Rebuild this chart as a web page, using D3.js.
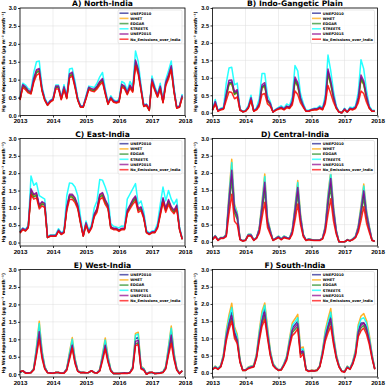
<!DOCTYPE html>
<html>
<head>
<meta charset="utf-8">
<script src="https://cdn.jsdelivr.net/npm/d3@7"></script>
<style>
  body { margin: 0; background: #fff; }
  svg { display: block; font-family: "DejaVu Sans", sans-serif; }
  .axis path, .axis line { stroke: #000; stroke-width: 0.8; }
  .axis text { font-weight: bold; fill: #000; }
  .grid line { stroke: #dcdcdc; stroke-width: 0.5; }
</style>
</head>
<body>
<div id="chart"></div>
<script>
// monthly values, Jan 2013 .. Dec 2017
var seriesNames = ["UNEP2010", "WHET", "EDGAR", "STREETS", "UNEP2015", "No_Emissions_over_India"];
var seriesColors = ["#1c1c8e", "#ffa500", "#228b22", "#00ffff", "#8b008b", "#ff0000"];
var panelTitles = ["A) North-India", "B) Indo-Gangetic Plain", "C) East-India", "D) Central-India", "E) West-India", "F) South-India"];
var yearTicks = [2013, 2014, 2015, 2016, 2017, 2018];
var fluxTicks = [0, 0.5, 1.0, 1.5, 2.0, 2.5, 3.0];

// A) North-India
var northUNEP2010 = [0.45,0.84,0.78,0.68,0.64,1.0,1.24,1.28,0.73,0.45,0.3,0.4, 0.45,0.8,0.8,0.47,0.78,0.5,1.12,1.18,0.84,0.45,0.25,0.25, 0.5,0.77,0.73,0.71,0.8,0.92,1.0,0.65,0.33,0.5,0.4,0.37, 0.4,0.85,0.8,0.62,0.82,0.7,1.5,1.25,0.75,0.27,0.3,0.15, 1.0,0.75,0.55,0.8,0.38,0.9,1.1,1.35,0.7,0.22,0.25,0.55];
var northWHET = [0.45,0.83,0.77,0.67,0.63,0.99,1.22,1.26,0.72,0.44,0.3,0.39, 0.44,0.79,0.79,0.46,0.77,0.49,1.1,1.16,0.83,0.44,0.25,0.25, 0.49,0.76,0.72,0.7,0.79,0.91,0.98,0.64,0.33,0.49,0.39,0.36, 0.39,0.84,0.79,0.61,0.81,0.69,1.48,1.23,0.74,0.27,0.29,0.15, 0.98,0.74,0.54,0.79,0.37,0.89,1.08,1.33,0.69,0.22,0.25,0.54];
var northEDGAR = [0.44,0.82,0.76,0.66,0.62,0.97,1.2,1.24,0.71,0.44,0.29,0.39, 0.44,0.78,0.78,0.46,0.76,0.49,1.09,1.14,0.82,0.44,0.24,0.24, 0.49,0.75,0.71,0.69,0.78,0.9,0.97,0.63,0.32,0.49,0.39,0.36, 0.39,0.83,0.78,0.6,0.8,0.68,1.46,1.21,0.73,0.26,0.29,0.14, 0.97,0.73,0.53,0.78,0.37,0.88,1.07,1.31,0.68,0.21,0.24,0.53];
var northSTREETS = [0.5,0.9,0.85,0.75,0.72,1.2,1.5,1.52,0.82,0.5,0.33,0.43, 0.48,0.85,0.85,0.5,0.86,0.55,1.3,1.32,0.95,0.5,0.27,0.27, 0.55,0.82,0.8,0.78,0.9,1.08,1.2,0.75,0.37,0.55,0.44,0.4, 0.45,0.95,0.9,0.7,0.95,0.8,1.8,1.5,0.85,0.3,0.32,0.17, 1.1,0.82,0.6,0.9,0.42,1.0,1.25,1.52,0.78,0.24,0.27,0.6];
var northUNEP2015 = [0.46,0.86,0.8,0.7,0.66,1.04,1.28,1.31,0.75,0.46,0.31,0.41, 0.46,0.82,0.82,0.48,0.8,0.52,1.16,1.21,0.86,0.46,0.26,0.26, 0.51,0.79,0.75,0.73,0.82,0.95,1.03,0.67,0.34,0.51,0.41,0.38, 0.41,0.87,0.82,0.64,0.85,0.72,1.55,1.29,0.77,0.28,0.31,0.16, 1.02,0.77,0.57,0.82,0.39,0.93,1.13,1.39,0.72,0.23,0.26,0.56];
var northNoEmis = [0.43,0.78,0.72,0.63,0.6,0.92,1.12,1.18,0.68,0.42,0.28,0.37, 0.42,0.74,0.74,0.44,0.72,0.47,1.05,1.1,0.78,0.42,0.23,0.23, 0.46,0.72,0.68,0.66,0.74,0.85,0.93,0.6,0.31,0.47,0.37,0.35, 0.37,0.79,0.74,0.58,0.76,0.65,1.38,1.15,0.7,0.25,0.28,0.14, 0.93,0.7,0.51,0.74,0.35,0.83,1.02,1.28,0.65,0.2,0.23,0.5];

// B) Indo-Gangetic Plain
var igpUNEP2010 = [0.08,0.3,0.05,0.1,0.12,0.5,0.85,0.88,0.55,0.62,0.08,0.03, 0.05,0.15,0.4,0.05,0.1,0.25,0.75,0.8,0.35,0.25,0.02,0.08, 0.12,0.15,0.1,0.18,0.15,0.3,0.95,0.8,0.4,0.2,0.05,0.05, 0.08,0.1,0.1,0.15,0.1,0.35,1.18,0.85,0.45,0.15,0.02,0.0, 0.1,0.02,0.12,0.1,0.15,0.4,1.0,0.85,0.45,0.15,0.05,0.05];
var igpWHET = [0.08,0.28,0.05,0.09,0.11,0.47,0.8,0.83,0.52,0.58,0.08,0.03, 0.05,0.14,0.38,0.05,0.09,0.24,0.7,0.75,0.33,0.24,0.02,0.08, 0.11,0.14,0.09,0.17,0.14,0.28,0.89,0.75,0.38,0.19,0.05,0.05, 0.08,0.09,0.09,0.14,0.09,0.33,1.11,0.8,0.42,0.14,0.02,0.0, 0.09,0.02,0.11,0.09,0.14,0.38,0.94,0.8,0.42,0.14,0.05,0.05];
var igpEDGAR = [0.08,0.29,0.05,0.1,0.12,0.48,0.82,0.84,0.53,0.59,0.08,0.03, 0.05,0.14,0.38,0.05,0.1,0.24,0.72,0.77,0.34,0.24,0.02,0.08, 0.12,0.14,0.1,0.17,0.14,0.29,0.91,0.77,0.38,0.19,0.05,0.05, 0.08,0.1,0.1,0.14,0.1,0.34,1.13,0.82,0.43,0.14,0.02,0.0, 0.1,0.02,0.12,0.1,0.14,0.38,0.96,0.82,0.43,0.14,0.05,0.05];
var igpSTREETS = [0.1,0.38,0.06,0.13,0.16,0.85,1.28,1.3,0.8,0.85,0.1,0.04, 0.07,0.2,0.5,0.07,0.14,0.4,1.12,1.12,0.5,0.32,0.03,0.1, 0.15,0.2,0.14,0.25,0.2,0.45,1.35,1.2,0.55,0.27,0.07,0.07, 0.1,0.13,0.13,0.2,0.14,0.5,1.65,1.2,0.62,0.2,0.03,0.0, 0.13,0.03,0.16,0.14,0.2,0.58,1.52,1.25,0.65,0.2,0.07,0.07];
var igpUNEP2015 = [0.08,0.32,0.05,0.11,0.13,0.54,0.93,0.94,0.59,0.66,0.09,0.03, 0.05,0.16,0.43,0.05,0.11,0.27,0.8,0.86,0.37,0.27,0.02,0.09, 0.13,0.16,0.11,0.19,0.16,0.32,1.02,0.86,0.43,0.21,0.05,0.05, 0.09,0.11,0.11,0.16,0.11,0.37,1.25,0.91,0.48,0.16,0.02,0.0, 0.11,0.02,0.13,0.11,0.16,0.43,1.08,0.91,0.48,0.16,0.05,0.05];
var igpNoEmis = [0.07,0.25,0.04,0.08,0.1,0.35,0.6,0.58,0.4,0.45,0.07,0.03, 0.04,0.12,0.35,0.04,0.08,0.18,0.52,0.55,0.25,0.18,0.02,0.07, 0.1,0.12,0.08,0.14,0.12,0.22,0.62,0.52,0.28,0.15,0.04,0.04, 0.07,0.08,0.08,0.12,0.08,0.25,0.78,0.55,0.3,0.12,0.02,0.0, 0.08,0.02,0.1,0.08,0.12,0.28,0.62,0.55,0.3,0.12,0.04,0.04];

// C) East-India
var eastUNEP2010 = [0.3,0.4,0.35,0.45,1.5,1.35,1.4,1.05,1.15,1.1,0.15,0.2, 0.2,0.2,0.35,0.25,0.3,1.0,1.35,1.35,1.25,1.05,0.6,0.2, 0.55,0.3,0.45,0.8,0.95,1.35,1.4,1.2,1.05,0.45,0.4,0.4, 0.35,0.4,0.4,0.9,1.05,1.2,1.3,0.95,1.0,0.75,0.3,0.25, 0.3,0.3,0.45,0.85,1.25,0.95,1.2,1.0,0.9,1.05,0.4,0.1];
var eastWHET = [0.3,0.4,0.35,0.45,1.48,1.33,1.38,1.04,1.13,1.09,0.15,0.2, 0.2,0.2,0.35,0.25,0.3,0.99,1.33,1.33,1.23,1.04,0.59,0.2, 0.54,0.3,0.45,0.79,0.94,1.33,1.38,1.18,1.04,0.45,0.4,0.4, 0.35,0.4,0.4,0.89,1.04,1.18,1.28,0.94,0.99,0.74,0.3,0.25, 0.3,0.3,0.45,0.84,1.23,0.94,1.18,0.99,0.89,1.04,0.4,0.1];
var eastEDGAR = [0.29,0.39,0.34,0.44,1.45,1.31,1.36,1.02,1.11,1.07,0.14,0.19, 0.19,0.19,0.34,0.24,0.29,0.97,1.31,1.31,1.21,1.02,0.58,0.19, 0.53,0.29,0.44,0.78,0.92,1.31,1.36,1.16,1.02,0.44,0.39,0.39, 0.34,0.39,0.39,0.87,1.02,1.16,1.26,0.92,0.97,0.73,0.29,0.24, 0.29,0.29,0.44,0.82,1.21,0.92,1.16,0.97,0.87,1.02,0.39,0.09];
var eastSTREETS = [0.33,0.42,0.38,0.5,1.92,1.65,1.72,1.35,1.3,1.25,0.18,0.22, 0.22,0.23,0.4,0.28,0.35,1.35,1.72,1.7,1.6,1.35,0.75,0.23, 0.62,0.35,0.52,1.0,1.2,1.82,1.8,1.6,1.35,0.55,0.47,0.45, 0.42,0.48,0.47,1.25,1.4,1.55,1.7,1.1,1.2,0.9,0.35,0.28, 0.33,0.35,0.55,1.1,1.6,1.2,1.5,1.25,1.1,1.25,0.45,0.12];
var eastUNEP2015 = [0.3,0.41,0.36,0.46,1.55,1.39,1.44,1.08,1.18,1.13,0.15,0.2, 0.2,0.2,0.36,0.26,0.31,1.03,1.39,1.39,1.29,1.08,0.62,0.2, 0.57,0.31,0.46,0.82,0.98,1.39,1.44,1.24,1.08,0.46,0.41,0.41, 0.36,0.41,0.41,0.93,1.08,1.24,1.34,0.98,1.03,0.77,0.31,0.26, 0.31,0.31,0.46,0.88,1.29,0.98,1.24,1.03,0.93,1.08,0.41,0.1];
var eastNoEmis = [0.27,0.37,0.33,0.42,1.38,1.25,1.29,0.97,1.06,1.01,0.14,0.18, 0.18,0.18,0.32,0.23,0.28,0.92,1.24,1.25,1.15,0.97,0.55,0.18, 0.5,0.28,0.41,0.74,0.87,1.24,1.3,1.1,0.97,0.41,0.37,0.37, 0.32,0.37,0.37,0.83,0.97,1.1,1.2,0.87,0.92,0.69,0.28,0.23, 0.28,0.28,0.41,0.78,1.15,0.87,1.1,0.92,0.83,0.97,0.37,0.09];

// D) Central-India
var centralUNEP2010 = [0.08,0.17,0.05,0.12,0.12,0.2,1.2,2.05,0.95,0.75,0.08,0.03, 0.05,0.2,0.2,0.05,0.12,0.35,1.0,1.7,0.6,0.3,0.05,0.1, 0.15,0.08,0.15,0.12,0.1,0.3,0.9,1.55,0.7,0.2,0.05,0.08, 0.06,0.05,0.05,0.05,0.1,0.4,1.2,1.8,0.9,0.3,0.0,0.0, 0.0,0.06,0.03,0.08,0.15,0.4,0.9,1.45,0.8,0.4,0.05,0.02];
var centralWHET = [0.08,0.18,0.05,0.13,0.13,0.23,1.4,2.4,1.1,0.85,0.09,0.03, 0.05,0.22,0.22,0.05,0.13,0.4,1.17,1.97,0.7,0.35,0.05,0.11, 0.17,0.09,0.17,0.13,0.11,0.35,1.05,1.78,0.82,0.23,0.05,0.09, 0.07,0.05,0.05,0.05,0.11,0.47,1.4,2.05,1.05,0.35,0.0,0.0, 0.0,0.07,0.03,0.09,0.17,0.47,1.05,1.68,0.93,0.46,0.05,0.02];
var centralEDGAR = [0.07,0.16,0.05,0.11,0.11,0.18,1.06,1.8,0.84,0.66,0.07,0.03, 0.05,0.18,0.18,0.05,0.11,0.31,0.88,1.5,0.53,0.27,0.05,0.09, 0.13,0.07,0.13,0.11,0.09,0.27,0.8,1.37,0.62,0.18,0.05,0.07, 0.05,0.05,0.05,0.05,0.09,0.35,1.06,1.58,0.8,0.27,0.0,0.0, 0.0,0.05,0.03,0.07,0.13,0.35,0.8,1.28,0.7,0.35,0.05,0.02];
var centralSTREETS = [0.08,0.18,0.05,0.13,0.13,0.22,1.34,2.3,1.06,0.84,0.09,0.03, 0.05,0.22,0.22,0.05,0.13,0.39,1.12,1.9,0.67,0.34,0.05,0.11, 0.17,0.09,0.17,0.13,0.11,0.34,1.0,1.72,0.78,0.22,0.05,0.09, 0.07,0.05,0.05,0.05,0.11,0.45,1.34,2.0,1.0,0.34,0.0,0.0, 0.0,0.07,0.03,0.09,0.17,0.45,1.0,1.62,0.9,0.45,0.05,0.02];
var centralUNEP2015 = [0.08,0.17,0.05,0.12,0.12,0.2,1.22,2.08,0.97,0.77,0.08,0.03, 0.05,0.2,0.2,0.05,0.12,0.36,1.02,1.73,0.61,0.31,0.05,0.1, 0.15,0.08,0.15,0.12,0.1,0.31,0.92,1.58,0.71,0.2,0.05,0.08, 0.06,0.05,0.05,0.05,0.1,0.41,1.22,1.84,0.92,0.31,0.0,0.0, 0.0,0.06,0.03,0.08,0.15,0.41,0.92,1.48,0.82,0.41,0.05,0.02];
var centralNoEmis = [0.06,0.15,0.04,0.1,0.1,0.15,0.8,1.38,0.6,0.5,0.06,0.02, 0.04,0.18,0.16,0.04,0.1,0.25,0.7,1.15,0.42,0.22,0.04,0.08, 0.12,0.06,0.12,0.1,0.08,0.22,0.62,1.1,0.5,0.15,0.04,0.06, 0.05,0.04,0.04,0.04,0.08,0.28,0.8,1.25,0.6,0.22,0.0,0.0, 0.0,0.05,0.03,0.06,0.12,0.28,0.62,1.02,0.55,0.28,0.04,0.02];

// E) West-India
var westUNEP2010 = [0.05,0.1,0.04,0.04,0.05,0.15,0.7,1.33,0.6,0.2,0.05,0.04, 0.03,0.05,0.05,0.03,0.04,0.15,0.55,0.9,0.4,0.1,0.05,0.05, 0.04,0.05,0.1,0.05,0.04,0.12,0.5,0.9,0.45,0.12,0.02,0.02, 0.02,0.03,0.04,0.03,0.05,0.2,1.02,1.05,0.2,0.15,0.0,0.05, 0.05,0.02,0.03,0.04,0.06,0.2,0.7,1.22,0.55,0.15,0.02,0.1];
var westWHET = [0.05,0.1,0.04,0.04,0.05,0.17,0.8,1.52,0.69,0.23,0.05,0.04, 0.03,0.05,0.05,0.03,0.04,0.17,0.63,1.05,0.46,0.11,0.05,0.05, 0.04,0.05,0.1,0.05,0.04,0.14,0.58,1.04,0.52,0.14,0.02,0.02, 0.02,0.03,0.04,0.03,0.05,0.23,1.17,1.2,0.23,0.17,0.0,0.05, 0.05,0.02,0.03,0.04,0.07,0.23,0.8,1.38,0.63,0.17,0.02,0.1];
var westEDGAR = [0.05,0.09,0.04,0.04,0.05,0.13,0.6,1.13,0.51,0.17,0.05,0.04, 0.03,0.05,0.05,0.03,0.04,0.13,0.47,0.77,0.34,0.09,0.05,0.05, 0.04,0.05,0.09,0.05,0.04,0.1,0.43,0.77,0.38,0.1,0.02,0.02, 0.02,0.03,0.04,0.03,0.05,0.17,0.87,0.9,0.17,0.13,0.0,0.05, 0.05,0.02,0.03,0.04,0.05,0.17,0.6,1.04,0.47,0.13,0.02,0.09];
var westSTREETS = [0.05,0.1,0.04,0.04,0.05,0.16,0.77,1.45,0.66,0.22,0.05,0.04, 0.03,0.05,0.05,0.03,0.04,0.16,0.6,1.0,0.44,0.11,0.05,0.05, 0.04,0.05,0.1,0.05,0.04,0.13,0.55,0.98,0.5,0.13,0.02,0.02, 0.02,0.03,0.04,0.03,0.05,0.22,1.12,1.15,0.22,0.16,0.0,0.05, 0.05,0.02,0.03,0.04,0.07,0.22,0.77,1.32,0.6,0.16,0.02,0.1];
var westUNEP2015 = [0.05,0.1,0.04,0.04,0.05,0.14,0.64,1.22,0.55,0.18,0.05,0.04, 0.03,0.05,0.05,0.03,0.04,0.14,0.5,0.83,0.37,0.09,0.05,0.05, 0.04,0.05,0.1,0.05,0.04,0.11,0.46,0.83,0.41,0.11,0.02,0.02, 0.02,0.03,0.04,0.03,0.05,0.18,0.94,0.97,0.18,0.14,0.0,0.05, 0.05,0.02,0.03,0.04,0.06,0.18,0.64,1.12,0.5,0.14,0.02,0.1];
var westNoEmis = [0.08,0.1,0.03,0.03,0.04,0.12,0.55,1.0,0.45,0.15,0.04,0.03, 0.03,0.05,0.05,0.03,0.03,0.11,0.42,0.75,0.3,0.08,0.04,0.05, 0.04,0.05,0.1,0.04,0.03,0.09,0.38,0.72,0.34,0.09,0.02,0.02, 0.02,0.02,0.03,0.02,0.04,0.15,0.82,0.85,0.15,0.11,0.0,0.04, 0.06,0.02,0.02,0.03,0.05,0.15,0.55,0.88,0.42,0.11,0.02,0.1];

// F) South-India
var southUNEP2010 = [0.1,0.18,0.12,0.2,0.5,1.1,1.5,1.75,1.2,1.0,0.35,0.08, 0.08,0.15,0.18,0.2,0.5,1.1,1.6,1.85,1.2,0.6,0.25,0.15, 0.08,0.1,0.25,0.45,0.9,1.3,1.4,1.5,0.6,0.65,0.1,0.05, 0.07,0.06,0.08,0.2,0.6,1.1,1.4,1.65,1.0,0.5,0.2,0.05, 0.03,0.18,0.12,0.3,0.6,1.25,1.45,1.45,1.35,1.0,0.5,0.12];
var southWHET = [0.11,0.2,0.13,0.22,0.56,1.23,1.68,2.02,1.34,1.12,0.39,0.09, 0.09,0.17,0.2,0.22,0.56,1.23,1.79,2.03,1.34,0.67,0.28,0.17, 0.09,0.11,0.28,0.5,1.0,1.45,1.57,1.7,0.72,0.75,0.11,0.06, 0.08,0.07,0.09,0.22,0.67,1.23,1.57,1.87,1.12,0.56,0.22,0.06, 0.03,0.2,0.13,0.34,0.67,1.4,1.65,1.72,1.52,1.12,0.56,0.13];
var southEDGAR = [0.09,0.16,0.11,0.18,0.45,0.99,1.35,1.58,1.08,0.9,0.32,0.07, 0.07,0.14,0.16,0.18,0.45,0.99,1.44,1.67,1.08,0.54,0.23,0.14, 0.07,0.09,0.23,0.41,0.81,1.17,1.26,1.35,0.54,0.59,0.09,0.05, 0.06,0.05,0.07,0.18,0.54,0.99,1.26,1.49,0.9,0.45,0.18,0.05, 0.03,0.16,0.11,0.27,0.54,1.13,1.31,1.38,1.22,0.9,0.45,0.11];
var southSTREETS = [0.1,0.19,0.13,0.21,0.53,1.17,1.59,1.9,1.27,1.06,0.37,0.08, 0.08,0.16,0.19,0.21,0.53,1.17,1.7,1.96,1.27,0.64,0.27,0.16, 0.08,0.11,0.27,0.48,0.95,1.38,1.48,1.6,0.66,0.7,0.11,0.05, 0.07,0.06,0.08,0.21,0.64,1.17,1.48,1.76,1.06,0.53,0.21,0.05, 0.03,0.19,0.13,0.32,0.64,1.33,1.56,1.6,1.45,1.06,0.53,0.13];
var southUNEP2015 = [0.1,0.17,0.11,0.19,0.48,1.05,1.43,1.66,1.14,0.95,0.33,0.08, 0.08,0.14,0.17,0.19,0.48,1.05,1.52,1.76,1.14,0.57,0.24,0.14, 0.08,0.1,0.24,0.43,0.86,1.24,1.33,1.43,0.57,0.62,0.1,0.05, 0.07,0.06,0.08,0.19,0.57,1.05,1.33,1.57,0.95,0.48,0.19,0.05, 0.03,0.17,0.11,0.29,0.57,1.19,1.38,1.45,1.28,0.95,0.48,0.11];
var southNoEmis = [0.1,0.15,0.1,0.17,0.42,0.92,1.26,1.5,1.0,0.85,0.3,0.07, 0.07,0.12,0.15,0.17,0.42,0.92,1.35,1.55,1.0,0.5,0.21,0.12, 0.07,0.08,0.21,0.37,0.75,1.08,1.16,1.28,0.45,0.55,0.08,0.04, 0.06,0.05,0.07,0.17,0.5,0.92,1.16,1.35,0.83,0.42,0.17,0.04, 0.02,0.15,0.1,0.25,0.5,1.05,1.22,1.3,1.12,0.83,0.42,0.1];

var panelSeries = [
  [northUNEP2010, northWHET, northEDGAR, northSTREETS, northUNEP2015, northNoEmis],
  [igpUNEP2010, igpWHET, igpEDGAR, igpSTREETS, igpUNEP2015, igpNoEmis],
  [eastUNEP2010, eastWHET, eastEDGAR, eastSTREETS, eastUNEP2015, eastNoEmis],
  [centralUNEP2010, centralWHET, centralEDGAR, centralSTREETS, centralUNEP2015, centralNoEmis],
  [westUNEP2010, westWHET, westEDGAR, westSTREETS, westUNEP2015, westNoEmis],
  [southUNEP2010, southWHET, southEDGAR, southSTREETS, southUNEP2015, southNoEmis]
];
var panelYMin = [0, -0.08, -0.1, -0.12, -0.08, -0.12];

var width = 387, height = 387;
var colLeft = [20, 212.5];
var rowTop = [8, 138.5, 269.5];
var plotW = 165, plotH = 107.5;

var svg = d3.select("#chart").append("svg")
            .attr("width", width)
            .attr("height", height);

function DrawPanel(p)
{
  var left = colLeft[p % 2];
  var top = rowTop[Math.floor(p / 2)];

  var x = d3.scaleLinear().domain([2013, 2018]).range([0, plotW]);
  var y = d3.scaleLinear().domain([panelYMin[p], 3.0]).range([plotH, 0]);

  var g = svg.append("g").attr("transform", "translate(" + left + "," + top + ")");

  // grid
  var grid = g.append("g").attr("class", "grid");
  grid.selectAll(".gx").data(yearTicks).enter().append("line")
      .attr("x1", function(d) {return x(d);}).attr("x2", function(d) {return x(d);})
      .attr("y1", 0).attr("y2", plotH);
  grid.selectAll(".gy").data(fluxTicks).enter().append("line")
      .attr("x1", 0).attr("x2", plotW)
      .attr("y1", function(d) {return y(d);}).attr("y2", function(d) {return y(d);});

  var line = d3.line()
               .x(function(d, i) {return x(2013 + i / 12);})
               .y(function(d) {return y(d);});

  panelSeries[p].forEach(function(vals, k)
  {
    g.append("path")
     .datum(vals)
     .attr("fill", "none")
     .attr("stroke", seriesColors[k])
     .attr("stroke-width", 1.5)
     .attr("stroke-opacity", 0.85)
     .attr("stroke-linejoin", "round")
     .attr("d", line);
  });

  // frame
  g.append("rect").attr("width", plotW).attr("height", plotH)
   .attr("fill", "none").attr("stroke", "#000").attr("stroke-width", 0.8);

  var xAxis = d3.axisBottom(x).tickValues(yearTicks).tickFormat(d3.format("d")).tickSize(2).tickPadding(1.5);
  var yAxis = d3.axisLeft(y).tickValues(fluxTicks).tickFormat(d3.format(".1f")).tickSize(2).tickPadding(1.5);

  g.append("g").attr("class", "axis")
   .attr("transform", "translate(0," + plotH + ")")
   .call(xAxis)
   .call(function(s) {s.select(".domain").remove(); s.selectAll("text").style("font-size", "6.2px");});

  g.append("g").attr("class", "axis")
   .call(yAxis)
   .call(function(s) {s.select(".domain").remove(); s.selectAll("text").style("font-size", "5.6px");});

  // title
  g.append("text")
   .attr("x", plotW / 2).attr("y", -1.6)
   .attr("text-anchor", "middle")
   .style("font-size", "7.6px").style("font-weight", "bold")
   .text(panelTitles[p]);

  // y label
  g.append("text")
   .attr("transform", "translate(" + (-15.5) + "," + (plotH / 2) + ") rotate(-90)")
   .attr("text-anchor", "middle")
   .style("font-size", "4.4px").style("font-weight", "bold")
   .text("Hg Wet deposition flux (\u00b5g m\u207b\u00b2 month\u207b\u00b9)");

  // legend
  var lg = g.append("g").attr("transform", "translate(" + (plotW - 67) + ",2)");
  lg.append("rect").attr("width", 64).attr("height", 33.5).attr("rx", 1.5)
    .attr("fill", "#fff").attr("fill-opacity", 0.8)
    .attr("stroke", "#d0d0d0").attr("stroke-width", 0.5);
  seriesNames.forEach(function(name, k)
  {
    var ly = 3.2 + k * 5.2;
    lg.append("line").attr("x1", 1.5).attr("x2", 10.5).attr("y1", ly).attr("y2", ly)
      .attr("stroke", seriesColors[k]).attr("stroke-width", 1.6).attr("stroke-opacity", 0.7);
    lg.append("text").attr("x", 12.3).attr("y", ly + 1.3)
      .style("font-size", "3.6px").style("font-weight", "bold")
      .text(name);
  });
}

for(var p = 0; p < 6; p++)
{
  DrawPanel(p);
}
</script>
</body>
</html>
